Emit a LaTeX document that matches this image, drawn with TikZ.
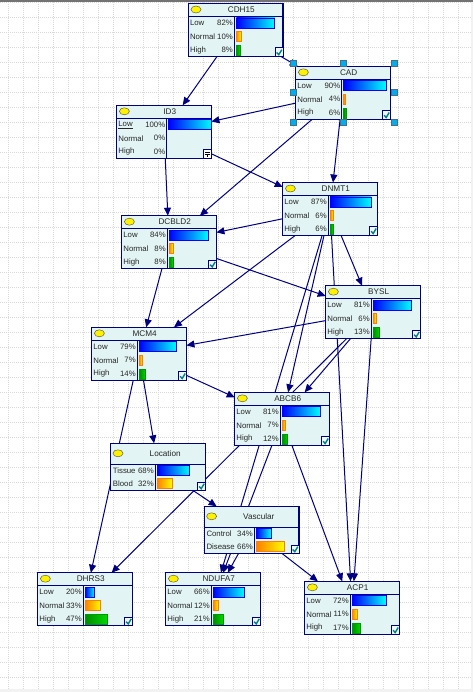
\documentclass[tikz,border=0pt]{standalone}
\usepackage{fontspec}
\setmainfont{Liberation Sans}
\usetikzlibrary{arrows.meta,backgrounds,shapes.geometric}
\pgfdeclarelayer{gridlayer}
\pgfdeclarelayer{edgelayer}
\pgfsetlayers{gridlayer,edgelayer,main}
\definecolor{nv}{RGB}{0,0,128}
\definecolor{boxfill}{RGB}{227,244,244}
\definecolor{tealck}{RGB}{0,128,128}
\tikzset{
  bbn/.style={draw=nv,fill=boxfill,line width=1.1pt,outer sep=0pt,inner sep=0pt,anchor=north west,minimum width=94.7pt},
  rowtxt/.style={font=\fontsize{7.8}{9}\selectfont,inner sep=0pt,text=black!85},
  titletxt/.style={font=\fontsize{8.2}{9}\selectfont,inner sep=0pt,text=black!85},
  ell/.style={ellipse,draw=black!70!yellow,fill=yellow,line width=.5pt,minimum width=10pt,minimum height=7pt,inner sep=0pt,outer sep=0pt},
  edge/.style={draw=nv,line width=1pt,-{Triangle[length=8pt,width=7pt]}},
  handle/.style={draw=black!55!cyan,fill=cyan,line width=.4pt,minimum size=6pt,inner sep=0pt,outer sep=0pt},
  ckbox/.style={draw=nv,fill=boxfill!60!white,line width=1pt},
  lowbar/.style={left color=blue,right color=cyan,draw=blue,line width=.8pt},
  midbar/.style={left color=orange,right color=yellow,draw=orange,line width=.8pt},
  highbar/.style={left color=green!55!black,right color=green!85!black,draw=green!60!black,line width=.8pt},
}
\newcommand{\ckmark}[2]{%
  \draw[ckbox] (#1-8,#2-8.5) rectangle (#1,#2);
  \draw[tealck,line width=1.4pt] (#1-6.3,#2-4) -- (#1-4.2,#2-1.8) -- (#1-1.2,#2-6.8);
}
\newcommand{\barat}[4]{%
  \pgfmathsetmacro{\bw}{max(1,#3*\barscale)}
  \shadedraw[#4] (#1,#2-5) rectangle ++(\bw,10);
}
\newcommand{\dv}{46}
\newcommand{\barscale}{0.47}
% three state node: name x y title low normal high label
\newcommand{\tnode}[8]{%
  \node[bbn,minimum height=53pt] (#1) at (#2,#3) {};
  \draw[nv,line width=1pt] (#2,#3+13) -- ++(94.7,0);
  \draw[nv,line width=1pt] (#2+\dv,#3+13) -- ++(0,40);
  \node[ell] (#1-e) at (#2+7.7,#3+6) {};
  \node[titletxt] (#1-t) at (#2+53,#3+6) {#4};
  \node[rowtxt,anchor=west] (#1-a) at (#2+1.5,#3+19.5) {#8};
  \node[rowtxt,anchor=west] (#1-b) at (#2+1.5,#3+33) {Normal};
  \node[rowtxt,anchor=west] (#1-c) at (#2+1.5,#3+46.5) {High};
  \node[rowtxt,anchor=east] (#1-pa) at (#2+\dv-1.3,#3+19.5) {#5\%};
  \node[rowtxt,anchor=east] (#1-pb) at (#2+\dv-1.3,#3+33) {#6\%};
  \node[rowtxt,anchor=east] (#1-pc) at (#2+\dv-1.3,#3+46.5) {#7\%};
  \ifnum#5>0 \barat{#2+\dv+2}{#3+19.5}{#5}{lowbar}\fi
  \ifnum#6>0 \barat{#2+\dv+2}{#3+33}{#6}{midbar}\fi
  \ifnum#7>0 \barat{#2+\dv+2}{#3+47}{#7}{highbar}\fi
}
\newcommand{\dnode}[8]{%
  \node[bbn,minimum height=47.2pt] (#1) at (#2,#3) {};
  \draw[nv,line width=1pt] (#2,#3+20.7) -- ++(94.7,0);
  \draw[nv,line width=1pt] (#2+\dv,#3+20.7) -- ++(0,26.5);
  \node[ell] (#1-e) at (#2+7.3,#3+10) {};
  \node[titletxt] (#1-t) at (#2+54.5,#3+10) {#4};
  \node[rowtxt,anchor=west] (#1-a) at (#2+2,#3+27.5) {#5};
  \node[rowtxt,anchor=west] (#1-b) at (#2+2,#3+40.5) {#7};
  \node[rowtxt,anchor=east] (#1-pa) at (#2+\dv-1.3,#3+27.5) {#6\%};
  \node[rowtxt,anchor=east] (#1-pb) at (#2+\dv-1.3,#3+40.5) {#8\%};
  \barat{#2+\dv+2}{#3+27.5}{#6}{lowbar}
  \barat{#2+\dv+2}{#3+40.5}{#8}{midbar}
}
\begin{document}
\begin{tikzpicture}[x=1pt,y=-1pt]
\useasboundingbox (0,0) rectangle (473,692);
\begin{pgfonlayer}{gridlayer}
  \fill[white] (0,0) rectangle (473,692);
  \fill[blue!4!gray!10] (471,0) rectangle (473,692);
  \fill[blue!4!gray!10] (0,689) rectangle (473,692);
  \foreach \i in {0,...,30} {\draw[black!15,line width=.8pt,dash pattern=on 1pt off 1pt] (8.4+15*\i,2) -- (8.4+15*\i,689);}
  \foreach \i in {0,...,45} {\draw[black!15,line width=.8pt,dash pattern=on 1pt off 1pt] (0,2.6+15*\i) -- (471,2.6+15*\i);}
  \fill[black!55] (0,0.4) rectangle (473,1.6);
\end{pgfonlayer}

\tnode{cdh}{188.3}{3.5}{CDH15}{82}{10}{8}{Low}
\tnode{cad}{295.7}{66.3}{CAD}{90}{4}{6}{Low}
\renewcommand{\dv}{50}\renewcommand{\barscale}{0.43}
\tnode{idt}{116.7}{105.3}{ID3}{100}{0}{0}{\underline{Low}}
\renewcommand{\dv}{45.5}\renewcommand{\barscale}{0.47}
\tnode{dnm}{282.7}{182.5}{DNMT1}{87}{6}{6}{Low}
\tnode{dcb}{121.7}{215.7}{DCBLD2}{84}{8}{8}{Low}
\tnode{bys}{325.7}{285.7}{BYSL}{81}{6}{13}{Low}
\tnode{mcm}{91.7}{327.3}{MCM4}{79}{7}{14}{Low}
\tnode{abc}{234.7}{392.3}{ABCB6}{81}{7}{12}{Low}
\renewcommand{\dv}{44.5}\renewcommand{\barscale}{0.48}
\dnode{loc}{110.7}{443.3}{Location}{Tissue}{68}{Blood}{32}
\renewcommand{\dv}{50}\renewcommand{\barscale}{0.43}
\dnode{vas}{204.3}{506.3}{Vascular}{Control}{34}{Disease}{66}
\renewcommand{\dv}{45.5}\renewcommand{\barscale}{0.47}
\tnode{dhr}{37.7}{572.7}{DHRS3}{20}{33}{47}{Low}
\tnode{ndu}{165.7}{572.7}{NDUFA7}{66}{12}{21}{Low}
\tnode{acp}{304.7}{581.3}{ACP1}{72}{11}{17}{Low}

\ckmark{283}{56.5}
\ckmark{390.4}{119.3}
\ckmark{377.4}{235.3}
\ckmark{216.4}{268.7}
\ckmark{420.4}{338.7}
\ckmark{186.4}{380.3}
\ckmark{329.4}{445.3}
\ckmark{205.4}{490.5}
\ckmark{299}{553.5}
\ckmark{132.4}{625.7}
\ckmark{260.4}{625.7}
\ckmark{399.4}{634.3}
% ID3 expand box
\draw[draw=nv,fill=white,line width=1pt] (203.5,150) rectangle (211.4,158.4);
\draw[black,line width=.9pt] (204.8,152) -- (210,152) (204.8,154.2) -- (210,154.2) (207.4,154.2) -- (207.4,157);

\begin{pgfonlayer}{edgelayer}
\foreach \a/\b in {cdh/idt,cdh/cad,cad/idt,cad/dcb,cad/dnm,idt/dcb,idt/dnm,dnm/dcb,dnm/mcm,dnm/bys,dnm/abc,dnm/ndu,dnm/acp,dcb/mcm,dcb/bys,bys/mcm,bys/abc,bys/dhr,bys/acp,mcm/abc,mcm/loc,mcm/dhr,loc/vas,abc/ndu,abc/acp,vas/ndu,vas/acp}
  \draw[edge] (\a) -- (\b);
\end{pgfonlayer}

\foreach \n/\x/\y in {h1/293/63,h2/343/63,h3/394/63,h4/293/92.5,h5/394/92.5,h6/293/122,h7/343/122,h8/394/122}
  \node[handle] (\n) at (\x,\y) {};
\end{tikzpicture}
\end{document}
